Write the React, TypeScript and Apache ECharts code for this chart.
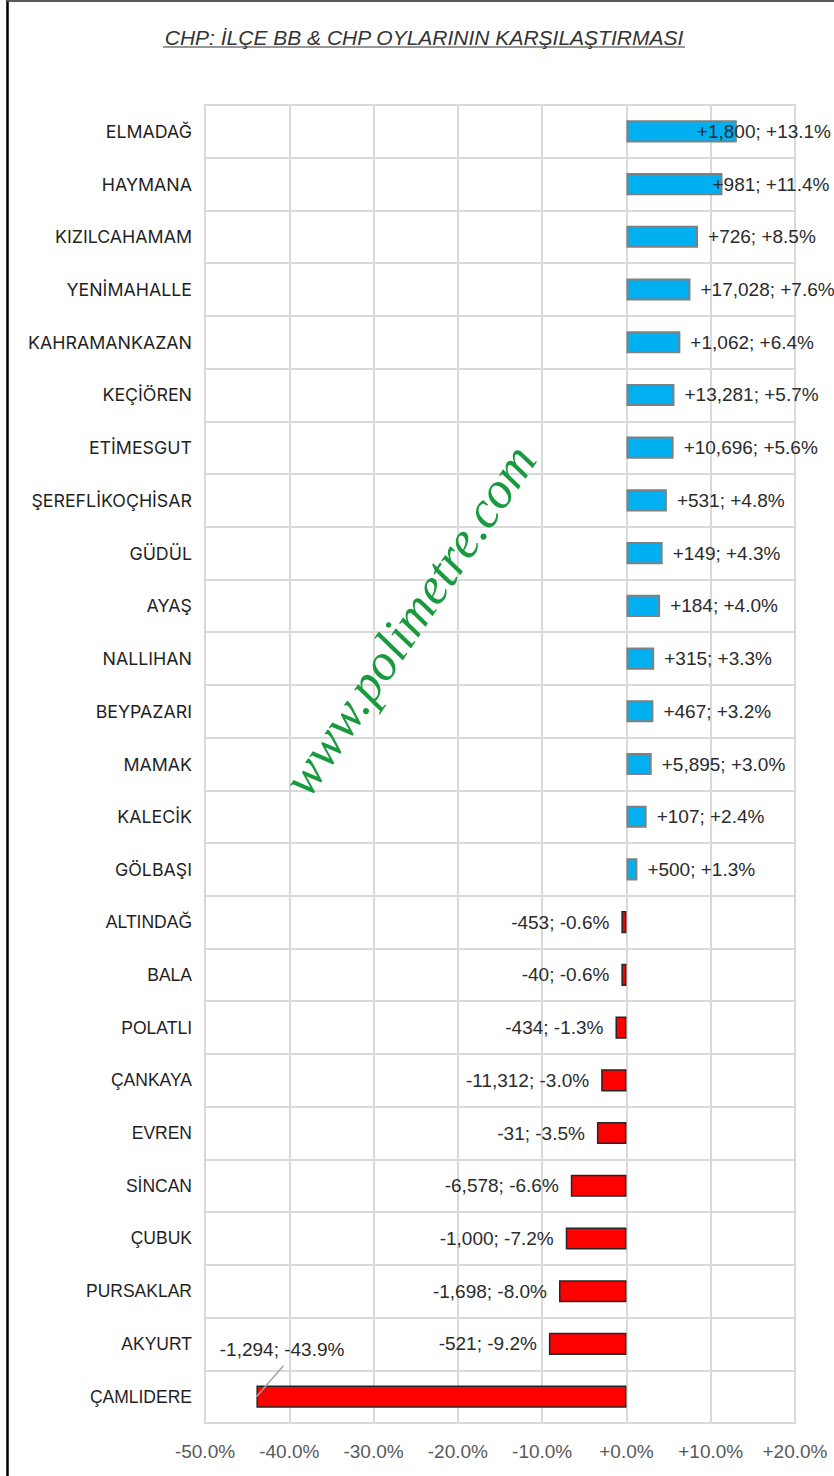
import React, { useEffect, useRef } from "react";
import * as echarts from "echarts";

const categories = [
  "ELMADAĞ", "HAYMANA", "KIZILCAHAMAM", "YENİMAHALLE", "KAHRAMANKAZAN",
  "KEÇİÖREN", "ETİMESGUT", "ŞEREFLİKOÇHİSAR", "GÜDÜL", "AYAŞ",
  "NALLIHAN", "BEYPAZARI", "MAMAK", "KALECİK", "GÖLBAŞI",
  "ALTINDAĞ", "BALA", "POLATLI", "ÇANKAYA", "EVREN",
  "SİNCAN", "ÇUBUK", "PURSAKLAR", "AKYURT", "ÇAMLIDERE",
];

const pctChange = [
  13.1, 11.4, 8.5, 7.6, 6.4, 5.7, 5.6, 4.8, 4.3, 4.0, 3.3, 3.2, 3.0, 2.4, 1.3,
  -0.6, -0.6, -1.3, -3.0, -3.5, -6.6, -7.2, -8.0, -9.2, -43.9,
];

const voteChange = [
  1800, 981, 726, 17028, 1062, 13281, 10696, 531, 149, 184, 315, 467, 5895, 107, 500,
  -453, -40, -434, -11312, -31, -6578, -1000, -1698, -521, -1294,
];

const xMin = -50;
const xMax = 20;
const xStep = 10;

const titleText = "CHP: İLÇE BB & CHP OYLARININ KARŞILAŞTIRMASI";
const watermarkText = "www.polimetre.com";

const signed = (s: string, v: number) => (v >= 0 ? "+" + s : s);
const fmtVotes = (v: number) =>
  (v >= 0 ? "+" : "-") + Math.abs(v).toLocaleString("en-US");
const fmtPct = (v: number) => signed(v.toFixed(1) + "%", v);

export default function App() {
  const ref = useRef<HTMLDivElement>(null);

  useEffect(() => {
    if (!ref.current) return;
    const chart = echarts.init(ref.current, null, { renderer: "svg" });
    const last = categories.length - 1;

    const data = pctChange.map((v) => {
      const positive = v >= 0;
      return {
        value: v,
        itemStyle: positive
          ? { color: "#00B0F0", borderColor: "#808080", borderWidth: 2 }
          : { color: "#FF0000", borderColor: "#262626", borderWidth: 1.5 },
        label: {
          position: positive ? "right" : "left",
          distance: positive ? 10 : 12,
        },
      };
    });

    const option: any = {
      animation: false,
      backgroundColor: "#ffffff",
      grid: {
        left: 205,
        right: 39,
        top: 105,
        bottom: 53,
        show: true,
        borderColor: "#d9d9d9",
        borderWidth: 2,
      },
      xAxis: {
        type: "value",
        min: xMin,
        max: xMax,
        interval: xStep,
        axisLine: { show: false },
        axisTick: { show: false },
        splitLine: { show: true, lineStyle: { color: "#d9d9d9", width: 2 } },
        axisLabel: {
          formatter: (v: number) => fmtPct(v),
          color: "#595959",
          fontFamily: "Liberation Sans",
          fontSize: 19,
          margin: 19,
        },
      },
      yAxis: {
        type: "category",
        data: categories,
        inverse: true,
        axisLine: { show: false },
        axisTick: { show: false },
        splitLine: {
          show: true,
          interval: 0,
          lineStyle: { color: "#d9d9d9", width: 2 },
        },
        axisLabel: {
          margin: 13,
          interval: 0,
          formatter: (v: string, i: number) =>
            i < 15 ? `{a|${v}}` : `{b|${v}}`,
          rich: {
            a: { fontFamily: "Inter", fontSize: 17.8, color: "#1f1f1f" },
            b: { fontFamily: "Liberation Sans", fontSize: 17.5, color: "#1f1f1f" },
          },
        },
      },
      series: [
        {
          type: "bar",
          data,
          barCategoryGap: "58%",
          z: 2,
          label: {
            show: true,
            fontFamily: "Liberation Sans",
            fontSize: 19,
            color: "#2b2b2b",
            formatter: (p: any) =>
              fmtVotes(voteChange[p.dataIndex]) + "; " + fmtPct(pctChange[p.dataIndex]),
          },
          labelLayout: (params: any) => {
            if (params.dataIndex === 0) return { dx: -50 };
            if (params.dataIndex === 1) return { dx: -20 };
            if (params.dataIndex === last) return { dx: 100, dy: -47 };
            return {};
          },
        },
        {
          type: "custom",
          z: 3,
          silent: true,
          data: [[pctChange[last], last]],
          renderItem: (params: any, api: any) => {
            const p = api.coord([api.value(0), api.value(1)]);
            return {
              type: "line",
              shape: { x1: p[0], y1: p[1], x2: p[0] + 27, y2: p[1] - 31 },
              style: { stroke: "#a6a6a6", lineWidth: 1.5 },
            };
          },
        },
      ],
      graphic: [
        {
          type: "line",
          shape: { x1: 7.5, y1: 0, x2: 7.5, y2: 1476 },
          style: { stroke: "#000000", lineWidth: 2.5 },
        },
        {
          type: "line",
          shape: { x1: 7, y1: 1, x2: 834, y2: 1 },
          style: { stroke: "#595959", lineWidth: 2 },
        },
        {
          type: "text",
          x: 424,
          y: 37,
          style: {
            text: titleText,
            fontFamily: "Liberation Sans",
            fontStyle: "italic",
            fontSize: 21,
            fill: "#333333",
            align: "center",
            verticalAlign: "middle",
          },
        },
        {
          type: "line",
          shape: { x1: 163, y1: 47, x2: 685, y2: 47 },
          style: { stroke: "#333333", lineWidth: 1.2 },
        },
        {
          type: "text",
          x: 409,
          y: 620,
          rotation: (56 * Math.PI) / 180,
          z: 10,
          style: {
            text: watermarkText,
            fontFamily: "Liberation Serif",
            fontStyle: "italic",
            fontSize: 52,
            fill: "#1a9a3f",
            align: "center",
            verticalAlign: "middle",
          },
        },
      ],
    };

    chart.setOption(option);
    return () => chart.dispose();
  }, []);

  return (
    <div
      ref={ref}
      style={{ position: "absolute", left: 0, top: 0, width: 834, height: 1476 }}
    />
  );
}
